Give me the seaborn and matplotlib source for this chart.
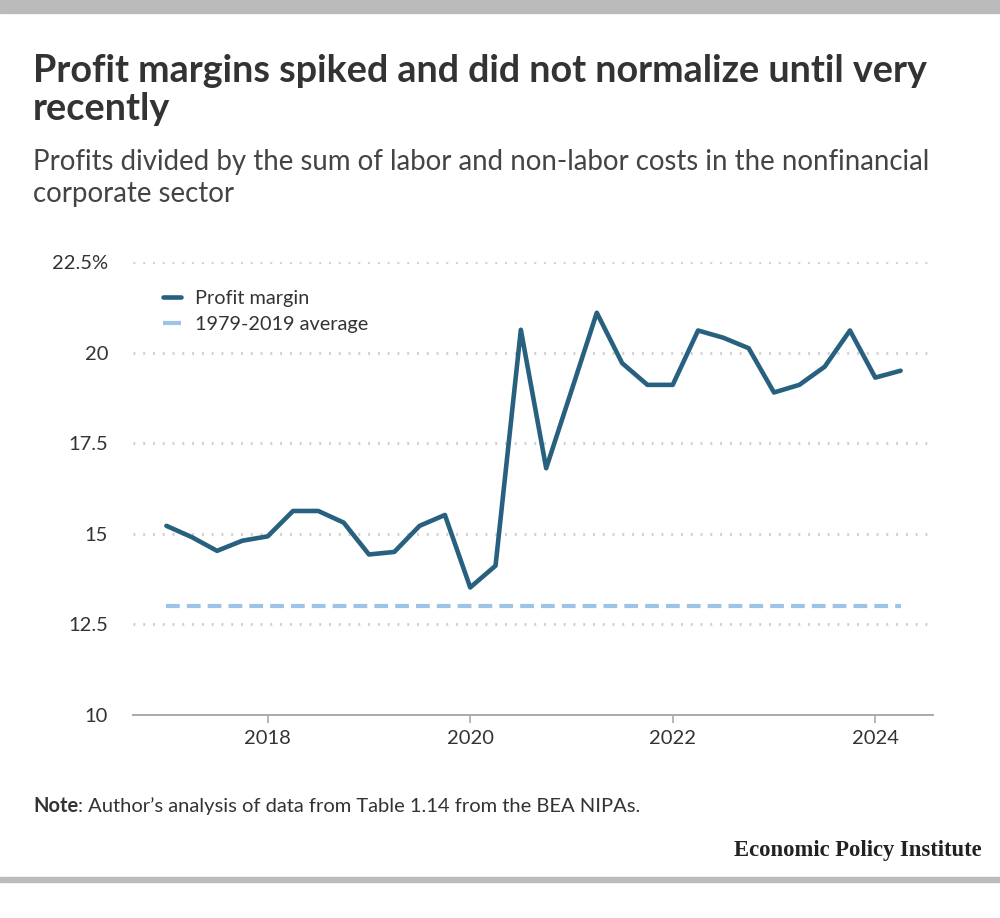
import numpy as np
import pandas as pd
import matplotlib
matplotlib.use('Agg')
import matplotlib.pyplot as plt
from matplotlib.patches import Rectangle
import seaborn as sns

# quarterly profit margin, nonfinancial corporate sector (%)
quarters = ['2017Q1', '2017Q2', '2017Q3', '2017Q4',
            '2018Q1', '2018Q2', '2018Q3', '2018Q4',
            '2019Q1', '2019Q2', '2019Q3', '2019Q4',
            '2020Q1', '2020Q2', '2020Q3', '2020Q4',
            '2021Q1', '2021Q2', '2021Q3', '2021Q4',
            '2022Q1', '2022Q2', '2022Q3', '2022Q4',
            '2023Q1', '2023Q2', '2023Q3', '2023Q4',
            '2024Q1', '2024Q2']
profit_margin = [15.22, 14.91, 14.53, 14.81,
                 14.93, 15.63, 15.63, 15.31,
                 14.43, 14.50, 15.22, 15.52,
                 13.52, 14.12, 20.63, 16.81,
                 18.95, 21.10, 19.71, 19.11,
                 19.11, 20.61, 20.41, 20.12,
                 18.90, 19.11, 19.61, 20.61,
                 19.31, 19.50]
avg_1979_2019 = 13.0

y_ticks = [10, 12.5, 15, 17.5, 20, 22.5]
y_labels = ['10', '12.5', '15', '17.5', '20', '22.5%']
x_ticks = [2018, 2020, 2022, 2024]

per = pd.PeriodIndex(quarters, freq='Q')
df = pd.DataFrame({'x': per.year + (per.quarter - 1) / 4.0,
                   'margin': profit_margin})
df['avg'] = avg_1979_2019

sns.set_theme(style='white')
plt.rcParams['font.family'] = ['Lato', 'DejaVu Sans']

dark = '#28607f'
light = '#9dc3e6'
txt = '#333333'
H = 918.0

fig = plt.figure(figsize=(10, 9.18), dpi=100)
ax = fig.add_axes([0.133, 0.2211, 0.800, 0.4935])

# dotted gridlines
for yv in y_ticks[1:]:
    ax.axhline(yv, color='#cfcfcf', lw=2.2, ls=(0, (0.6, 2.6)), zorder=0)

sns.lineplot(data=df, x='x', y='avg', ax=ax, color=light, lw=3.0,
             label='1979-2019 average', zorder=2)
ax.lines[-1].set_dashes((3.3, 1.7))
sns.lineplot(data=df, x='x', y='margin', ax=ax, color=dark, lw=3.3,
             label='Profit margin', zorder=3)

ax.set_xlim(2016.67, 2024.57)
ax.set_ylim(10, 22.5)
ax.set_xlabel('')
ax.set_ylabel('')
ax.set_yticks(y_ticks)
ax.set_yticklabels(y_labels)
ax.set_xticks(x_ticks)
ax.set_xticklabels([str(t) for t in x_ticks])
ax.tick_params(axis='y', length=0, pad=18, labelsize=14.5, labelcolor=txt)
ax.tick_params(axis='x', length=6, width=1.2, color='#aaaaaa', direction='out',
               pad=5, labelsize=14.5, labelcolor=txt, bottom=True)
for s in ['top', 'right', 'left']:
    ax.spines[s].set_visible(False)
ax.spines['bottom'].set_color('#aaaaaa')
ax.spines['bottom'].set_linewidth(1.4)

# legend, profit margin first
h, l = ax.get_legend_handles_labels()
order = [l.index('Profit margin'), l.index('1979-2019 average')]
leg = ax.legend([h[i] for i in order], [l[i] for i in order],
                loc='upper left', bbox_to_anchor=(0.028, 0.955), frameon=False,
                fontsize=14.3, handlelength=0.9, handletextpad=0.7,
                labelspacing=0.45, borderaxespad=0)
for t in leg.get_texts():
    t.set_color(txt)
leg.get_lines()[1].set_dashes((3.3, 0))

# titles
fig.text(0.033, 1 - 82 / H, 'Profit margins spiked and did not normalize until very',
         fontsize=27.2, fontweight='bold', color=txt, ha='left', va='baseline')
fig.text(0.033, 1 - 120 / H, 'recently',
         fontsize=27.2, fontweight='bold', color=txt, ha='left', va='baseline')
fig.text(0.033, 1 - 170 / H, 'Profits divided by the sum of labor and non-labor costs in the nonfinancial',
         fontsize=19.9, color='#444444', ha='left', va='baseline')
fig.text(0.033, 1 - 202 / H, 'corporate sector',
         fontsize=19.9, color='#444444', ha='left', va='baseline')

# note, with bold lead-in
note_b = fig.text(0.033, 1 - 812 / H, 'Note', fontsize=14.5, fontweight='bold',
                  color=txt, ha='left', va='baseline')
fig.canvas.draw()
bb = note_b.get_window_extent(renderer=fig.canvas.get_renderer())
fig.text(bb.x1 / fig.bbox.width, 1 - 812 / H,
         ': Author\u2019s analysis of data from Table 1.14 from the BEA NIPAs.',
         fontsize=14.5, color=txt, ha='left', va='baseline')
fig.text(0.982, 1 - 856 / H, 'Economic Policy Institute', fontsize=16.3, fontweight='bold',
         family='Liberation Serif', color='#222222', ha='right', va='baseline')

# grey bands top and bottom
fig.patches.append(Rectangle((0, 1 - 13 / H), 1, 13 / H, transform=fig.transFigure,
                             color='#bbbbbb', zorder=0))
fig.patches.append(Rectangle((0, 1 - 882 / H), 1, 5 / H, transform=fig.transFigure,
                             color='#bbbbbb', zorder=0))

fig.savefig('out.png', dpi=100)
